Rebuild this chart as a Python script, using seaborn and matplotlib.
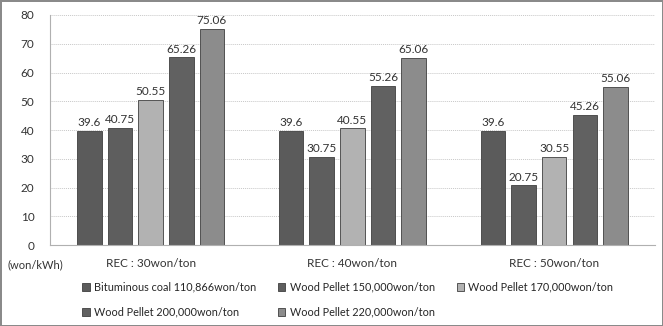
import pandas as pd
import matplotlib.pyplot as plt
import seaborn as sns

# Chart data
scenarios = ["REC : 30won/ton", "REC : 40won/ton", "REC : 50won/ton"]
fuels = [
    "Bituminous coal 110,866won/ton",
    "Wood Pellet 150,000won/ton",
    "Wood Pellet 170,000won/ton",
    "Wood Pellet 200,000won/ton",
    "Wood Pellet 220,000won/ton",
]
coal_110866 = [39.6, 39.6, 39.6]
pellet_150000 = [40.75, 30.75, 20.75]
pellet_170000 = [50.55, 40.55, 30.55]
pellet_200000 = [65.26, 55.26, 45.26]
pellet_220000 = [75.06, 65.06, 55.06]
colors = ["#5b5b5b", "#5e5e5e", "#b2b2b2", "#616161", "#8c8c8c"]

series = [coal_110866, pellet_150000, pellet_170000, pellet_200000, pellet_220000]
rows = []
for fuel, vals in zip(fuels, series):
    for sc, v in zip(scenarios, vals):
        rows.append({"scenario": sc, "fuel": fuel, "cost": v})
df = pd.DataFrame(rows)

sns.set_style("white")
plt.rcParams["font.family"] = ["Lato", "DejaVu Sans"]

fig = plt.figure(figsize=(6.63, 3.26), dpi=100)
ax = fig.add_axes([0.075, 0.248, 0.913, 0.706])

sns.barplot(data=df, x="scenario", y="cost", hue="fuel", hue_order=fuels,
            order=scenarios, palette=colors, width=0.76, gap=0.2,
            edgecolor="#3f3f3f", linewidth=0.6, ax=ax)

for cont in ax.containers:
    ax.bar_label(cont, fmt="%g", padding=2, fontsize=8.5, color="#333333")

ax.set_ylim(0, 80)
ax.set_yticks(range(0, 81, 10))
ax.set_xlim(-0.5, 2.5)
ax.grid(axis="y", linestyle=(0, (1, 1)), color="#c8c8c8", linewidth=0.7)
ax.set_axisbelow(True)
for s in ["top", "right"]:
    ax.spines[s].set_visible(False)
ax.spines["left"].set_color("#b0b0b0")
ax.spines["bottom"].set_color("#b0b0b0")
ax.tick_params(axis="both", labelsize=8.5, colors="#333333", length=0)
ax.tick_params(axis="y", pad=11)
ax.tick_params(axis="x", pad=9)
ax.set_xlabel("")
ax.set_ylabel("")
fig.text(0.012, 0.178, "(won/kWh)", fontsize=8, color="#333333")

# legend filled row by row (matplotlib fills columns first)
handles, labels = ax.get_legend_handles_labels()
ax.legend_.remove()
order = [0, 3, 1, 4, 2]
fig.legend([handles[i] for i in order], [labels[i] for i in order],
           loc="lower left", bbox_to_anchor=(0.109, -0.005),
           ncol=3, frameon=False, fontsize=7.8, handlelength=0.7,
           handleheight=0.7, handletextpad=0.4, columnspacing=2.0,
           labelspacing=1.3)

fig.patch.set_edgecolor("#8a8a8a")
fig.patch.set_linewidth(2)
fig.savefig("out.png", dpi=100, edgecolor=fig.get_edgecolor())
